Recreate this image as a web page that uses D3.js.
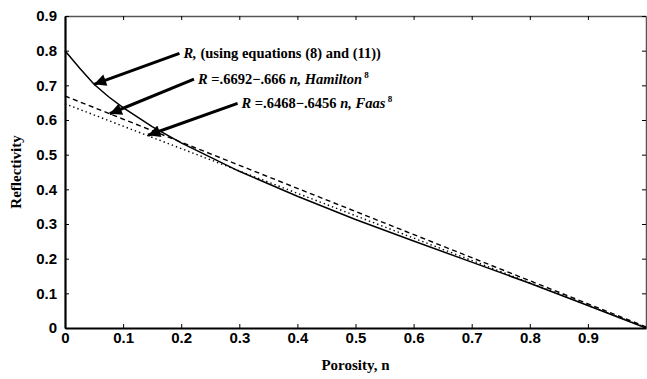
<!DOCTYPE html>
<html>
<head>
<meta charset="utf-8">
<script src="https://cdn.jsdelivr.net/npm/d3@7"></script>
<style>
  body { margin: 0; background: #fff; }
  svg { display: block; font-family: "Liberation Serif", "DejaVu Serif", serif; }
  .tick text { font-size: 15px; font-weight: bold; fill: #000; }
</style>
</head>
<body>
<svg id="chart" width="647" height="379"></svg>
<script>
const porosity = [0, 0.025, 0.05, 0.075, 0.1, 0.15, 0.2, 0.3, 0.4, 0.5, 0.6, 0.7, 0.8, 0.9, 1.0];
// R from equations (8) and (11)
const reflectModel = [0.80, 0.75, 0.703, 0.667, 0.636, 0.581, 0.534, 0.452, 0.38, 0.313, 0.251, 0.19, 0.129, 0.065, 0.0];
// linear fits: intercept, slope
const hamiltonFit = [0.6692, -0.666];
const faasFit = [0.6468, -0.6456];
const xTicks = [0, 0.1, 0.2, 0.3, 0.4, 0.5, 0.6, 0.7, 0.8, 0.9];
const yTicks = [0, 0.1, 0.2, 0.3, 0.4, 0.5, 0.6, 0.7, 0.8, 0.9];
// arrows: tail (n, R) and tip (n, R)
const arrowTails = [[0.197, 0.792], [0.222, 0.718], [0.297, 0.648]];
const arrowTips = [[0.05, 0.703], [0.077, 0.618], [0.143, 0.556]];

const svg = d3.select("#chart");
const x = d3.scaleLinear().domain([0, 1]).range([65, 646]);
const y = d3.scaleLinear().domain([0, 0.9]).range([328, 16]);

const fmt = d => d === 0 ? "0" : d.toFixed(1);

// frame: top and right, ticks only
svg.append("g")
  .attr("transform", "translate(0," + y(0.9) + ")")
  .call(d3.axisTop(x).tickValues(xTicks).tickSizeInner(-4).tickSizeOuter(0).tickFormat(""))
  .call(g => g.select(".domain").attr("stroke", "#555").attr("stroke-width", 1.5));
svg.append("g")
  .attr("transform", "translate(" + x(1) + ",0)")
  .call(d3.axisRight(y).tickValues(yTicks).tickSizeInner(-4).tickSizeOuter(0).tickFormat(""))
  .call(g => g.select(".domain").attr("stroke", "#555").attr("stroke-width", 1.5));

// bottom axis
svg.append("g")
  .attr("transform", "translate(0," + y(0) + ")")
  .call(d3.axisBottom(x).tickValues(xTicks).tickSizeInner(-4).tickSizeOuter(0).tickPadding(4).tickFormat(fmt))
  .call(g => g.select(".domain").attr("stroke-width", 2.2));

// left axis
svg.append("g")
  .attr("transform", "translate(" + x(0) + ",0)")
  .call(d3.axisLeft(y).tickValues(yTicks).tickSizeInner(-4).tickSizeOuter(0).tickPadding(8).tickFormat(fmt))
  .call(g => g.select(".domain").attr("stroke-width", 2.2));

// axis titles
svg.append("text")
  .attr("x", (x(0) + x(1)) / 2)
  .attr("y", 370)
  .attr("text-anchor", "middle")
  .style("font-size", "15px")
  .style("font-weight", "bold")
  .text("Porosity, n");
svg.append("text")
  .attr("transform", "translate(21," + (y(0) + y(0.9)) / 2 + ") rotate(-90)")
  .attr("text-anchor", "middle")
  .style("font-size", "15px")
  .style("font-weight", "bold")
  .text("Reflectivity");

// lines
const line = d3.line().x(d => x(d[0])).y(d => y(d[1]));
const fitLine = f => [0, 1].map(n => [n, f[0] + f[1] * n]);

svg.append("path")
  .datum(fitLine(faasFit))
  .attr("d", line)
  .attr("fill", "none")
  .attr("stroke", "#000")
  .attr("stroke-width", 1.4)
  .attr("stroke-dasharray", "1.4,3");

svg.append("path")
  .datum(fitLine(hamiltonFit))
  .attr("d", line)
  .attr("fill", "none")
  .attr("stroke", "#000")
  .attr("stroke-width", 1.4)
  .attr("stroke-dasharray", "5,3.5");

svg.append("path")
  .datum(porosity.map((n, i) => [n, reflectModel[i]]))
  .attr("d", line)
  .attr("fill", "none")
  .attr("stroke", "#000")
  .attr("stroke-width", 1.5);

// arrows
svg.append("defs").append("marker")
  .attr("id", "head")
  .attr("viewBox", "0 0 10 10")
  .attr("refX", 10)
  .attr("refY", 5)
  .attr("markerUnits", "userSpaceOnUse")
  .attr("markerWidth", 18)
  .attr("markerHeight", 12)
  .attr("orient", "auto")
  .append("path")
  .attr("d", "M0,0 L10,5 L0,10 Z")
  .attr("fill", "#000");

svg.selectAll(".arrow")
  .data(arrowTails)
  .enter()
  .append("line")
  .attr("class", "arrow")
  .attr("x1", d => x(d[0]))
  .attr("y1", d => y(d[1]))
  .attr("x2", (d, i) => x(arrowTips[i][0]))
  .attr("y2", (d, i) => y(arrowTips[i][1]))
  .attr("stroke", "#000")
  .attr("stroke-width", 3)
  .attr("marker-end", "url(#head)");

// labels
const labels = svg.selectAll(".lbl")
  .data(arrowTails)
  .enter()
  .append("text")
  .attr("class", "lbl")
  .attr("x", d => x(d[0]) + 4)
  .attr("y", d => y(d[1]) + 5)
  .style("font-size", "14.5px");

const label1 = d3.select(labels.nodes()[0]);
label1.append("tspan").style("font-style", "italic").style("font-weight", "bold").text("R,");
label1.append("tspan").style("font-weight", "bold").text(" (using equations (8) and (11))");

function fitLabel(sel, f, who) {
  sel.append("tspan").style("font-style", "italic").style("font-weight", "bold").text("R");
  sel.append("tspan").style("font-weight", "bold")
    .text(" =" + f[0].toString().slice(1) + "\u2212" + (-f[1]).toString().slice(1) + " ");
  sel.append("tspan").style("font-style", "italic").style("font-weight", "bold").text("n, " + who);
  sel.append("tspan").attr("dy", -6).style("font-size", "9px").style("font-weight", "bold").text(" 8");
}
fitLabel(d3.select(labels.nodes()[1]), hamiltonFit, "Hamilton");
fitLabel(d3.select(labels.nodes()[2]), faasFit, "Faas");
</script>
</body>
</html>
